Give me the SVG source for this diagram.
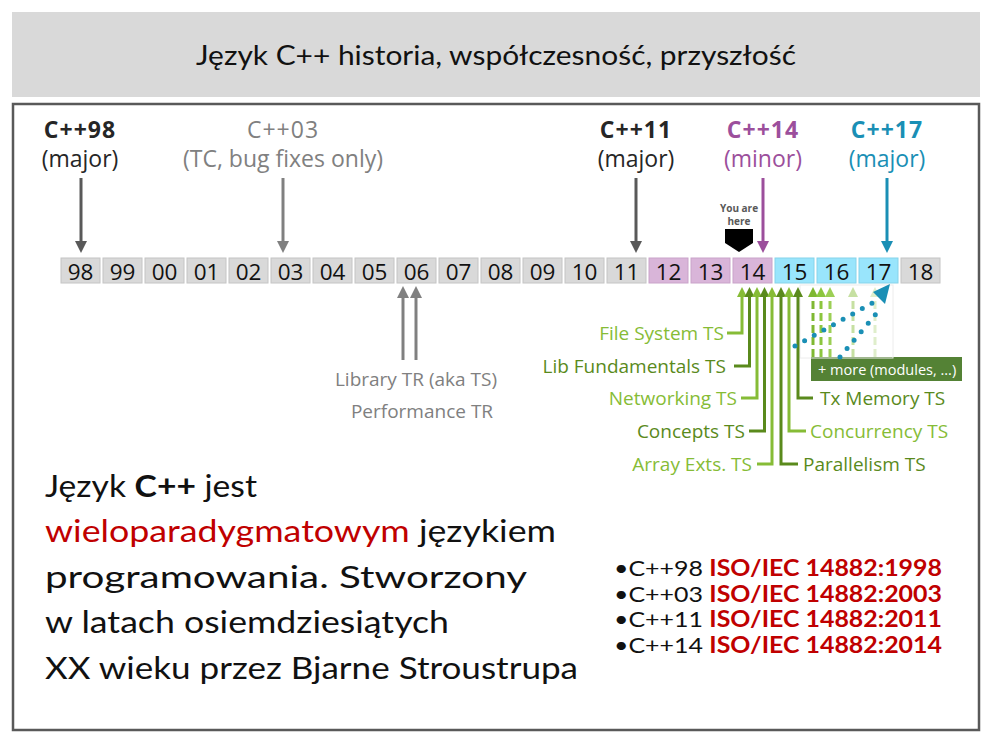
<svg xmlns="http://www.w3.org/2000/svg" width="992" height="744" viewBox="0 0 992 744">
<style>
.seg{font-family:"Open Sans","Noto Sans",sans-serif}
.cal{font-family:Lato,"Liberation Sans",sans-serif}
.yr{fill:#d9d9d9;stroke:#c4c4c4;stroke-width:1}
.pu{fill:#d9b5d9;stroke:#c9a3c9;stroke-width:1}
.bl{fill:#99e5fc;stroke:#86d3ea;stroke-width:1}
.yt{font-family:"Open Sans","Noto Sans",sans-serif;font-size:22.5px;fill:#111;text-anchor:middle}
.lg{stroke:#86bc36;fill:none;stroke-width:3}
.dg{stroke:#5a8a1c;fill:none;stroke-width:3}
.lgt{fill:#86bc36}
.dgt{fill:#5a8a1c}
.ts{font-family:"Open Sans","Noto Sans",sans-serif;font-size:19px}
</style>
<rect x="12" y="12" width="968" height="85" fill="#d9d9d9"/>
<text x="196" y="65" class="cal" font-size="27" fill="#111" textLength="600" lengthAdjust="spacingAndGlyphs">Język C++ historia, współczesność, przyszłość</text>
<rect x="13" y="104" width="966" height="626" fill="#fff" stroke="#595959" stroke-width="2.5"/>

<g id="timeline">
<rect class="yr" x="61" y="258" width="39" height="25"/><text class="yt" x="80.5" y="279.5">98</text>
<rect class="yr" x="103" y="258" width="39" height="25"/><text class="yt" x="122.5" y="279.5">99</text>
<rect class="yr" x="145" y="258" width="39" height="25"/><text class="yt" x="164.5" y="279.5">00</text>
<rect class="yr" x="187" y="258" width="39" height="25"/><text class="yt" x="206.5" y="279.5">01</text>
<rect class="yr" x="229" y="258" width="39" height="25"/><text class="yt" x="248.5" y="279.5">02</text>
<rect class="yr" x="271" y="258" width="39" height="25"/><text class="yt" x="290.5" y="279.5">03</text>
<rect class="yr" x="313" y="258" width="39" height="25"/><text class="yt" x="332.5" y="279.5">04</text>
<rect class="yr" x="355" y="258" width="39" height="25"/><text class="yt" x="374.5" y="279.5">05</text>
<rect class="yr" x="397" y="258" width="39" height="25"/><text class="yt" x="416.5" y="279.5">06</text>
<rect class="yr" x="439" y="258" width="39" height="25"/><text class="yt" x="458.5" y="279.5">07</text>
<rect class="yr" x="481" y="258" width="39" height="25"/><text class="yt" x="500.5" y="279.5">08</text>
<rect class="yr" x="523" y="258" width="39" height="25"/><text class="yt" x="542.5" y="279.5">09</text>
<rect class="yr" x="565" y="258" width="39" height="25"/><text class="yt" x="584.5" y="279.5">10</text>
<rect class="yr" x="607" y="258" width="39" height="25"/><text class="yt" x="626.5" y="279.5">11</text>
<rect class="pu" x="649" y="258" width="39" height="25"/><text class="yt" x="668.5" y="279.5">12</text>
<rect class="pu" x="691" y="258" width="39" height="25"/><text class="yt" x="710.5" y="279.5">13</text>
<rect class="pu" x="733" y="258" width="39" height="25"/><text class="yt" x="752.5" y="279.5">14</text>
<rect class="bl" x="775" y="258" width="39" height="25"/><text class="yt" x="794.5" y="279.5">15</text>
<rect class="bl" x="817" y="258" width="39" height="25"/><text class="yt" x="836.5" y="279.5">16</text>
<rect class="bl" x="859" y="258" width="39" height="25"/><text class="yt" x="878.5" y="279.5">17</text>
<rect class="yr" x="901" y="258" width="39" height="25"/><text class="yt" x="920.5" y="279.5">18</text>
</g>

<g id="cpp98" class="seg" font-size="23" text-anchor="middle" fill="#262626">
<text x="80" y="138" font-weight="bold" letter-spacing="1">C++98</text>
<text x="80" y="167">(major)</text>
</g>
<g id="cpp03" class="seg" font-size="23" text-anchor="middle" fill="#808080">
<text x="283" y="138" letter-spacing="1">C++03</text>
<text x="283" y="167">(TC, bug fixes only)</text>
</g>
<g id="cpp11" class="seg" font-size="23" text-anchor="middle" fill="#262626">
<text x="636" y="138" font-weight="bold" letter-spacing="1">C++11</text>
<text x="636" y="167">(major)</text>
</g>
<g id="cpp14" class="seg" font-size="23" text-anchor="middle" fill="#9c4f9c">
<text x="763" y="138" font-weight="bold" letter-spacing="1">C++14</text>
<text x="763" y="167">(minor)</text>
</g>
<g id="cpp17" class="seg" font-size="23" text-anchor="middle" fill="#1a8fb5">
<text x="887" y="138" font-weight="bold" letter-spacing="1">C++17</text>
<text x="887" y="167">(major)</text>
</g>
<g id="here">
<text class="seg" font-size="10" font-weight="bold" fill="#595959" text-anchor="middle" x="739" y="212">You are</text>
<text class="seg" font-size="10" font-weight="bold" fill="#595959" text-anchor="middle" x="739" y="225">here</text>
<polygon points="725,229 753,229 753,243 739,252 725,243" fill="#000"/>
</g>
<g id="libtr" class="seg" font-size="19" fill="#808080" text-anchor="middle">
<text x="416" y="386">Library TR (aka TS)</text>
<text x="422" y="418">Performance TR</text>
</g>
<g id="more">
<rect x="811" y="357" width="151" height="24" fill="#548235"/>
<text x="818" y="374.5" class="seg" font-size="14.5" fill="#fff">+ more (modules, ...)</text>
</g>
<g id="ts-labels" class="ts">
<text class="lgt" x="724" y="340" text-anchor="end">File System TS</text>
<text class="dgt" x="726" y="373" text-anchor="end">Lib Fundamentals TS</text>
<text class="lgt" x="737" y="405" text-anchor="end">Networking TS</text>
<text class="dgt" x="745" y="438" text-anchor="end">Concepts TS</text>
<text class="lgt" x="752" y="471" text-anchor="end">Array Exts. TS</text>
<text class="dgt" x="803" y="471">Parallelism TS</text>
<text class="lgt" x="810" y="438">Concurrency TS</text>
<text class="dgt" x="820" y="405">Tx Memory TS</text>
</g>

<g id="connectors">
<g stroke-width="3" fill="none">
<path d="M81 178 V242" stroke="#595959"/><polygon points="75,241 87,241 81,253" fill="#595959"/>
<path d="M283 178 V242" stroke="#808080"/><polygon points="277,241 289,241 283,253" fill="#808080"/>
<path d="M636 178 V242" stroke="#595959"/><polygon points="630,241 642,241 636,253" fill="#595959"/>
<path d="M763 178 V242" stroke="#9c4f9c"/><polygon points="757,241 769,241 763,253" fill="#9c4f9c"/>
<path d="M887 178 V242" stroke="#1a8fb5"/><polygon points="881,241 893,241 887,253" fill="#1a8fb5"/>
<path d="M403 360 V297" stroke="#808080"/><polygon points="397,298 409,298 403,286" fill="#808080"/>
<path d="M416 360 V297" stroke="#808080"/><polygon points="410,298 422,298 416,286" fill="#808080"/>
</g>
<rect x="800" y="285" width="93" height="73" fill="none" stroke="#ececec" stroke-width="1"/>
<g stroke-dasharray="8 4" stroke-width="3" fill="none">
<path d="M813 357 V296" stroke="#7fb832"/><polygon points="808,297 818,297 813,287" fill="#7fb832" stroke="none"/>
<path d="M821 357 V296" stroke="#8cc63f"/><polygon points="816,297 826,297 821,287" fill="#8cc63f" stroke="none"/>
<path d="M830 357 V296" stroke="#9ccf55"/><polygon points="825,297 835,297 830,287" fill="#9ccf55" stroke="none"/>
<path d="M853 357 V296" stroke="#c6e0a2"/><polygon points="848,297 858,297 853,287" fill="#c6e0a2" stroke="none"/>
<path d="M875 357 V296" stroke="#dfeecb"/><polygon points="870,297 880,297 875,287" fill="#dfeecb" stroke="none"/>
</g>
<path class="lg" d="M727 333 H742 V296"/><polygon points="737,297 747,297 742,287" fill="#86bc36"/>
<path class="dg" d="M734 366 H749.5 V296"/><polygon points="744.5,297 754.5,297 749.5,287" fill="#5a8a1c"/>
<path class="lg" d="M741 398 H757 V296"/><polygon points="752,297 762,297 757,287" fill="#86bc36"/>
<path class="dg" d="M749 431 H764.5 V296"/><polygon points="759.5,297 769.5,297 764.5,287" fill="#5a8a1c"/>
<path class="lg" d="M757 464 H772 V296"/><polygon points="767,297 777,297 772,287" fill="#86bc36"/>
<path class="dg" d="M798 464 H781 V296"/><polygon points="776,297 786,297 781,287" fill="#5a8a1c"/>
<path class="lg" d="M806 431 H789 V296"/><polygon points="784,297 794,297 789,287" fill="#86bc36"/>
<path class="dg" d="M813 398 H798 V296"/><polygon points="793,297 803,297 798,287" fill="#5a8a1c"/>
<g stroke="#1a8fb5" stroke-width="5" stroke-linecap="round" stroke-dasharray="0 11" fill="none">
<path d="M795 346 L876 301"/>
<path d="M840 357 L881 308"/>
</g>
<polygon points="890,284 873,292 885,304" fill="#1a8fb5"/>
</g>

<g id="body" class="cal" font-size="31" fill="#111">
<text x="45" y="497" textLength="212" lengthAdjust="spacingAndGlyphs">Język <tspan font-weight="bold">C++</tspan> jest</text>
<text x="45" y="542" textLength="511" lengthAdjust="spacingAndGlyphs"><tspan fill="#c00000">wieloparadygmatowym</tspan> językiem</text>
<text x="45" y="588" textLength="482" lengthAdjust="spacingAndGlyphs">programowania. Stworzony</text>
<text x="45" y="633" textLength="404" lengthAdjust="spacingAndGlyphs">w latach osiemdziesiątych</text>
<text x="45" y="679" textLength="533" lengthAdjust="spacingAndGlyphs">XX wieku przez Bjarne Stroustrupa</text>
</g>
<g id="iso" class="cal" font-size="22" fill="#111">
<text x="614" y="576" textLength="328" lengthAdjust="spacingAndGlyphs">•C++98 <tspan font-weight="bold" fill="#c00000">ISO/IEC 14882:1998</tspan></text>
<text x="614" y="601.5" textLength="328" lengthAdjust="spacingAndGlyphs">•C++03 <tspan font-weight="bold" fill="#c00000">ISO/IEC 14882:2003</tspan></text>
<text x="614" y="627" textLength="328" lengthAdjust="spacingAndGlyphs">•C++11 <tspan font-weight="bold" fill="#c00000">ISO/IEC 14882:2011</tspan></text>
<text x="614" y="652.5" textLength="328" lengthAdjust="spacingAndGlyphs">•C++14 <tspan font-weight="bold" fill="#c00000">ISO/IEC 14882:2014</tspan></text>
</g>
</svg>
